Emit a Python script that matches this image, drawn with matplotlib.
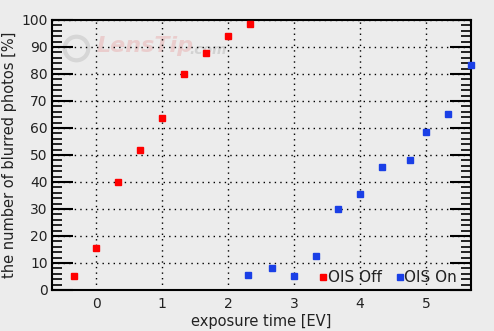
import matplotlib.pyplot as plt
import numpy as np
from matplotlib.ticker import MultipleLocator

ev_off = [-0.33, 0.0, 0.33, 0.67, 1.0, 1.33, 1.67, 2.0, 2.33]
blur_off = [5.2, 15.5, 40.0, 51.8, 63.7, 80.0, 87.8, 94.0, 98.5]

ev_on = [2.3, 2.67, 3.0, 3.33, 3.67, 4.0, 4.33, 4.75, 5.0, 5.33, 5.68]
blur_on = [5.5, 8.0, 5.0, 12.5, 30.0, 35.5, 45.4, 48.0, 58.4, 65.1, 83.2]

BG = "#ececec"

fig = plt.figure(figsize=(4.94, 3.31), dpi=100, facecolor=BG)
ax = fig.add_axes([0.1053, 0.1239, 0.8481, 0.8157], facecolor=BG)

ax.plot(ev_off, blur_off, "s", color="#ff0000", markersize=5, label="OIS Off", clip_on=False, zorder=3)
ax.plot(ev_on, blur_on, "s", color="#1a3fe6", markersize=5, label="OIS On", clip_on=False, zorder=3)

ax.set_xlim(-0.667, 5.68)
ax.set_ylim(0, 100)
ax.xaxis.set_major_locator(MultipleLocator(1))
ax.yaxis.set_major_locator(MultipleLocator(10))
ax.yaxis.set_minor_locator(MultipleLocator(2))

ax.grid(True, which="major", color="black", linestyle=(0, (1, 3)), linewidth=1.0)
ax.tick_params(axis="x", length=0, labelsize=10, colors="#222222", pad=5)
ax.tick_params(axis="y", which="major", direction="in", length=15, width=1.5,
               right=True, labelsize=10, labelcolor="#222222", pad=3)
ax.tick_params(axis="y", which="minor", direction="in", length=7, width=1.2, right=True)
for s in ax.spines.values():
    s.set_linewidth(1.5)

ax.set_xlabel("exposure time [EV]", fontsize=10.5, color="#222222", labelpad=2)
ax.set_ylabel("the number of blurred photos [%]", fontsize=10.5, color="#222222", labelpad=3)

# faint watermark
ax.plot([-0.3], [89.5], "o", markersize=17, markerfacecolor="none",
        markeredgecolor="#c8c8c8", markeredgewidth=3, alpha=0.6, zorder=1)
ax.text(0.0, 90.5, "LensTip", fontsize=16, fontstyle="italic", fontweight="bold",
        color="#e8a8a8", alpha=0.45, ha="left", va="center", zorder=1)
ax.text(1.42, 89.0, ".com", fontsize=10, fontstyle="italic", fontweight="bold",
        color="#c8c8c8", alpha=0.7, ha="left", va="center", zorder=1)

leg = ax.legend(loc="lower right", ncol=2, frameon=False, fontsize=11, handlelength=0.4,
                handletextpad=0.1, columnspacing=1.0, borderaxespad=0.1,
                bbox_to_anchor=(0.985, -0.01), labelcolor="#222222")

fig.savefig("out.png", dpi=100, facecolor=BG)
